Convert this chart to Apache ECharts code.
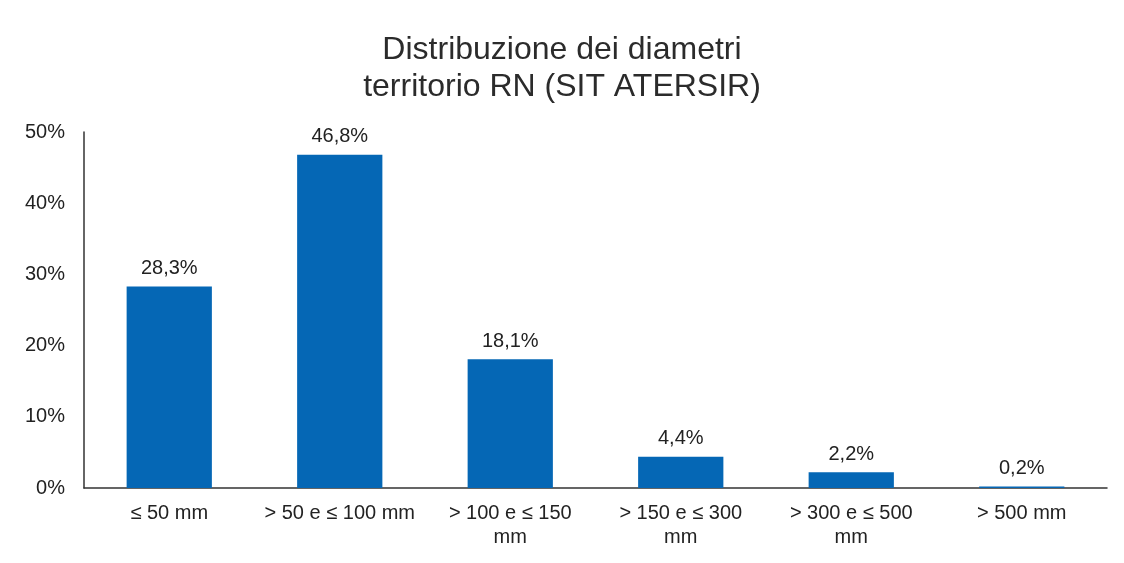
<!DOCTYPE html>
<html>
<head>
<meta charset="utf-8">
<title>Distribuzione dei diametri</title>
<script src="https://cdn.jsdelivr.net/npm/echarts@6/dist/echarts.min.js"></script>
<style>
  html, body { margin: 0; padding: 0; background: #fff; }
  #chart { width: 1124px; height: 563px; }
</style>
</head>
<body>
<div id="chart"></div>
<script type="text/javascript">
// dati
var categories = ['≤ 50 mm', '> 50 e ≤ 100 mm', '> 100 e ≤ 150\nmm', '> 150 e ≤ 300\nmm', '> 300 e ≤ 500\nmm', '> 500 mm'];
var values = [28.3, 46.8, 18.1, 4.4, 2.2, 0.2];
var yTicks = [0, 10, 20, 30, 40, 50];

var myChart = echarts.init(document.getElementById('chart'));

var textColor = '#222';
var font = 'Liberation Sans, Arial, sans-serif';

var option = {
    backgroundColor: '#fff',
    animation: false,
    title: {
        text: 'Distribuzione dei diametri\nterritorio RN (SIT ATERSIR)',
        left: 'center',
        top: 27,
        textStyle: {
            fontFamily: font,
            fontSize: 32,
            fontWeight: 'normal',
            color: '#2b2b2b',
            lineHeight: 37
        }
    },
    grid: {
        left: 84,
        right: 17,
        top: 132,
        bottom: 75
    },
    xAxis: {
        type: 'category',
        data: categories,
        axisLine: { lineStyle: { color: '#333', width: 1.5 } },
        axisTick: { show: false },
        axisLabel: {
            color: textColor,
            fontFamily: font,
            fontSize: 20,
            lineHeight: 24,
            margin: 13,
            interval: 0
        }
    },
    yAxis: {
        type: 'value',
        min: yTicks[0],
        max: yTicks[yTicks.length - 1],
        interval: 10,
        splitLine: { show: false },
        axisLine: { show: true, lineStyle: { color: '#333', width: 1.5 } },
        axisTick: { show: false },
        axisLabel: {
            color: textColor,
            fontFamily: font,
            fontSize: 20,
            margin: 19,
            formatter: '{value}%'
        }
    },
    series: [{
        type: 'bar',
        data: values,
        barWidth: '50%',
        itemStyle: { color: '#0567b5' },
        label: {
            show: true,
            position: 'top',
            distance: 8,
            color: textColor,
            fontFamily: font,
            fontSize: 20,
            formatter: function (p) {
                return p.value.toFixed(1).replace('.', ',') + '%';
            }
        }
    }]
};

myChart.setOption(option);
</script>
</body>
</html>
